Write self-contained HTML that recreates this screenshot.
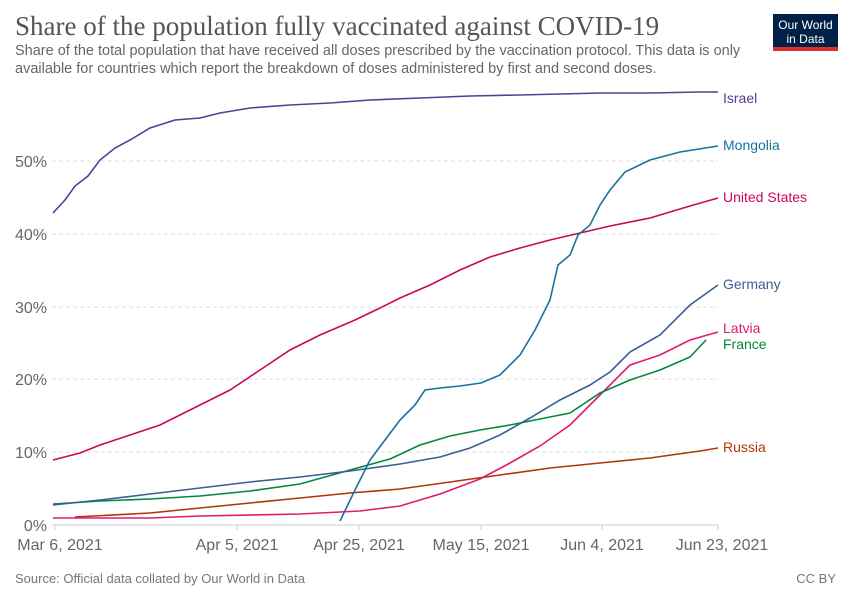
<!DOCTYPE html>
<html><head><meta charset="utf-8"><style>
body{margin:0;background:#fff;width:850px;height:600px;overflow:hidden;font-family:"Liberation Sans",sans-serif}
</style></head><body>
<svg width="850" height="600" xmlns="http://www.w3.org/2000/svg" font-family="Liberation Sans, sans-serif">
<text x="15" y="35" font-family="Liberation Serif, serif" font-size="27" fill="#555">Share of the population fully vaccinated against COVID-19</text>
<text x="15" y="55" font-size="14.5" fill="#666">Share of the total population that have received all doses prescribed by the vaccination protocol. This data is only</text>
<text x="15" y="73" font-size="14.5" fill="#666">available for countries which report the breakdown of doses administered by first and second doses.</text>
<rect x="773" y="14" width="65" height="34" fill="#002147"/>
<rect x="773" y="47" width="65" height="4" fill="#dd2f2f"/>
<text x="805.5" y="29" font-size="12" fill="#fff" text-anchor="middle">Our World</text>
<text x="805.5" y="43" font-size="12" fill="#fff" text-anchor="middle">in Data</text>
<g stroke="#ddd" stroke-dasharray="4,3">
<line x1="52" x2="718" y1="452" y2="452"/><line x1="52" x2="718" y1="379" y2="379"/><line x1="52" x2="718" y1="307" y2="307"/><line x1="52" x2="718" y1="234" y2="234"/><line x1="52" x2="718" y1="161" y2="161"/>
</g>
<line x1="52" x2="718" y1="525" y2="525" stroke="#ccc"/>
<g stroke="#ccc"><line x1="55" x2="55" y1="525" y2="530"/><line x1="237" x2="237" y1="525" y2="530"/><line x1="359" x2="359" y1="525" y2="530"/><line x1="481" x2="481" y1="525" y2="530"/><line x1="602" x2="602" y1="525" y2="530"/><line x1="718" x2="718" y1="525" y2="530"/></g>
<g font-size="16" fill="#666" text-anchor="end">
<text x="47" y="531">0%</text><text x="47" y="458">10%</text><text x="47" y="385">20%</text><text x="47" y="313">30%</text><text x="47" y="240">40%</text><text x="47" y="167">50%</text>
</g>
<g font-size="16" fill="#666" text-anchor="middle">
<text x="60" y="550">Mar 6, 2021</text><text x="237" y="550">Apr 5, 2021</text><text x="359" y="550">Apr 25, 2021</text><text x="481" y="550">May 15, 2021</text><text x="602" y="550">Jun 4, 2021</text><text x="722" y="550">Jun 23, 2021</text>
</g>
<text x="15" y="583" font-size="13" fill="#777">Source: Official data collated by Our World in Data</text>
<text x="836" y="583" font-size="13" fill="#777" text-anchor="end">CC BY</text>
<g fill="none" stroke-width="1.6">
<polyline stroke="#5b3a96" points="53,213 65,200 75,186 88,176 100,160 115,148 130,140 150,128 175,120 200,118 220,113 250,108 290,105 330,103 370,100 420,98 470,96 520,95 560,94 600,93 650,93 700,92 718,92"/>
<polyline stroke="#b13507" points="75,517 150,513 200,508 250,503 300,498 350,493 400,489 450,482 500,475 550,468 600,463 650,458 700,451 718,448"/>
<polyline stroke="#e11a6b" points="53,518 150,518 200,516 300,514 360,511 400,506 440,494 480,479 510,463 540,446 570,425 600,395 630,365 660,355 690,340 718,332"/>
<polyline stroke="#00893a" points="53,504 100,501 150,499 200,496 250,491 300,484 350,470 390,459 420,445 450,436 480,430 510,425 540,419 570,413 600,393 630,380 660,370 690,357 706,340"/>
<polyline stroke="#3a5e95" points="53,505 100,500 150,494 200,488 250,482 300,477 350,471 400,464 440,457 470,448 500,435 530,418 560,400 590,385 610,372 630,352 660,335 690,305 718,285"/>
<polyline stroke="#c8075f" points="53,460 80,453 100,445 130,435 160,425 200,405 230,390 260,370 290,350 320,335 355,320 380,308 400,298 430,285 460,270 490,257 520,248 550,240 580,233 610,226 650,218 690,206 718,198"/>
<polyline stroke="#18729e" points="340,521 355,490 370,460 385,440 400,420 415,405 425,390 440,388 460,386 481,383 500,375 520,355 535,330 550,300 558,265 570,255 578,235 590,225 600,205 610,190 625,172 650,160 680,152 718,146"/>
</g>
<g font-size="14">
<text x="723" y="103" fill="#5b3a96">Israel</text>
<text x="723" y="150" fill="#18729e">Mongolia</text>
<text x="723" y="202" fill="#c8075f">United States</text>
<text x="723" y="289" fill="#3a5e95">Germany</text>
<text x="723" y="333" fill="#e11a6b">Latvia</text>
<text x="723" y="349" fill="#00893a">France</text>
<text x="723" y="452" fill="#b13507">Russia</text>
</g>
</svg>
</body></html>
